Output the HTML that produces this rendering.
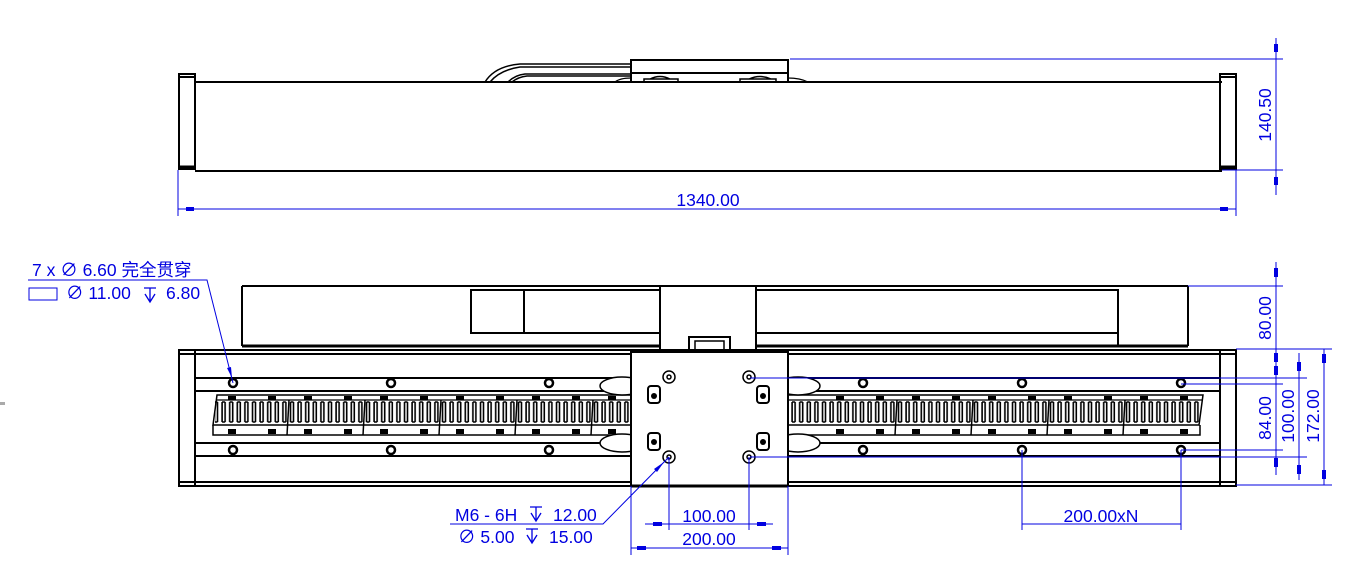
<!DOCTYPE html>
<html><head><meta charset="utf-8"><style>
html,body{margin:0;padding:0;background:#fff;}
svg{display:block;}
text{font-family:"Liberation Sans","Noto Sans CJK SC",sans-serif;fill:#0000e0;font-size:17.5px;}
</style></head><body>
<svg width="1363" height="578" viewBox="0 0 1363 578" xmlns="http://www.w3.org/2000/svg">
<defs>
<pattern id="teeth" x="213" y="400" width="7.6" height="25" patternUnits="userSpaceOnUse">
<path d="M1.5 2 V22 M4.5 2 V22 M1.5 2 H4.5 M1.5 22 H4.5" stroke="#000" stroke-width="1.6" fill="none"/>
</pattern>
<g id="dep"><path d="M-6 0 H6 M0 0 V14 M-5 6 L0 14 L5 6" stroke="#0000e0" stroke-width="1.3" fill="none"/></g>
</defs>
<rect x="0" y="402" width="5" height="3" fill="#aaa"/>
<g stroke="#000" fill="none" stroke-width="2">
<rect x="179" y="74" width="16" height="95"/>
<line x1="179" y1="77" x2="195" y2="77"/>
<line x1="179" y1="167" x2="195" y2="167" stroke-width="3"/>
<line x1="195" y1="82" x2="1222" y2="82"/>
<line x1="195" y1="171" x2="1222" y2="171"/>
<rect x="1220" y="74" width="16" height="95"/>
<line x1="1220" y1="77" x2="1236" y2="77"/>
<line x1="1220" y1="167" x2="1236" y2="167" stroke-width="3"/>
<rect x="631" y="60" width="157" height="22"/>
<line x1="631" y1="73" x2="788" y2="73"/>
<path d="M644 82 V79 H678 V82 M650 79 Q660 74 670 79 M740 82 V79 H776 V82 M749 79 Q760 74 771 79" stroke-width="1.5"/>
<path d="M485 82 Q495 66 520 64 H631 M490 82 Q500 70 520 67 H631" stroke-width="1.5"/>
<path d="M508 82 Q515 75 525 74 H631 M512 82 Q518 77 527 76 H631" stroke-width="1.5"/>
<path d="M615 82 Q620 78 631 78 M788 78 Q800 78 808 82" stroke-width="1.2"/>

<line x1="242" y1="286" x2="660" y2="286"/>
<line x1="756" y1="286" x2="1188" y2="286"/>
<line x1="242" y1="286" x2="242" y2="346"/>
<line x1="1188" y1="286" x2="1188" y2="346"/>
<line x1="242" y1="346" x2="660" y2="346" stroke-width="3"/>
<line x1="756" y1="346" x2="1188" y2="346" stroke-width="3"/>
<rect x="471" y="290" width="189" height="43"/>
<line x1="524" y1="290" x2="524" y2="333"/>
<rect x="756" y="290" width="362" height="43"/>
<line x1="1118" y1="290" x2="1118" y2="346"/>
<rect x="660" y="286" width="96" height="66"/>
<rect x="689" y="337" width="41" height="15"/>
<rect x="695" y="341" width="29" height="11" stroke-width="1.5"/>

<rect x="179" y="350" width="1057" height="136"/>
<line x1="179" y1="354" x2="1236" y2="354"/>
<line x1="179" y1="482" x2="1236" y2="482"/>
<line x1="195" y1="350" x2="195" y2="486"/>
<line x1="1220" y1="350" x2="1220" y2="486"/>
<line x1="195" y1="378" x2="1220" y2="378"/>
<line x1="195" y1="391" x2="1220" y2="391"/>
<line x1="195" y1="443" x2="1220" y2="443"/>
<line x1="195" y1="456" x2="1220" y2="456"/>
<path d="M217 395 H1203 L1199 425 H213 Z" stroke-width="1.5"/>
<rect x="215" y="400" width="986" height="24" fill="url(#teeth)" stroke="none"/>
<path d="M213 425 V435 H1200 V425" stroke-width="1.5"/>
<line x1="217" y1="400" x2="1203" y2="400" stroke-width="1.2"/>
</g>
<g fill="#000">
<g id="rb">
<rect x="228" y="396" width="8" height="4"/><rect x="268" y="396" width="8" height="4"/>
<rect x="228" y="429" width="8" height="5"/><rect x="268" y="429" width="8" height="5"/>
</g>
<use href="#rb" x="76"/><use href="#rb" x="152"/><use href="#rb" x="228"/><use href="#rb" x="304"/><use href="#rb" x="380"/>
<use href="#rb" x="608"/><use href="#rb" x="684"/><use href="#rb" x="760"/><use href="#rb" x="836"/><use href="#rb" x="912"/>
</g>
<g stroke="#000" fill="#fff" stroke-width="1.5">
<line x1="289" y1="400" x2="287" y2="435"/><line x1="365" y1="400" x2="363" y2="435"/><line x1="441" y1="400" x2="439" y2="435"/><line x1="517" y1="400" x2="515" y2="435"/><line x1="593" y1="400" x2="591" y2="435"/>
<line x1="897" y1="400" x2="895" y2="435"/><line x1="973" y1="400" x2="971" y2="435"/><line x1="1049" y1="400" x2="1047" y2="435"/><line x1="1125" y1="400" x2="1123" y2="435"/>
<ellipse cx="622" cy="386" rx="22" ry="9"/><ellipse cx="622" cy="443" rx="22" ry="9"/>
<ellipse cx="798" cy="386" rx="22" ry="9"/><ellipse cx="798" cy="443" rx="22" ry="9"/>
<rect x="631" y="352" width="157" height="134" stroke-width="2"/>
<line x1="631" y1="486" x2="788" y2="486" stroke-width="3"/>
</g>
<g stroke="#000" fill="#fff" stroke-width="1.5">
<g id="rh"><circle cx="233" cy="383" r="4" stroke-width="2.5"/><circle cx="233" cy="450" r="4" stroke-width="2.5"/></g>
<use href="#rh" x="158"/><use href="#rh" x="316"/><use href="#rh" x="630"/><use href="#rh" x="789"/><use href="#rh" x="948"/>
<circle cx="669" cy="377" r="6"/><circle cx="669" cy="377" r="2"/>
<circle cx="749" cy="377" r="6"/><circle cx="749" cy="377" r="2"/>
<circle cx="669" cy="457" r="6"/><circle cx="669" cy="457" r="2"/>
<circle cx="749" cy="457" r="6"/><circle cx="749" cy="457" r="2"/>
<rect x="648" y="386" width="12" height="17" rx="3" stroke-width="2"/>
<rect x="757" y="386" width="12" height="17" rx="3" stroke-width="2"/>
<rect x="648" y="433" width="12" height="17" rx="3" stroke-width="2"/>
<rect x="757" y="433" width="12" height="17" rx="3" stroke-width="2"/>
</g>
<g fill="#000"><circle cx="654" cy="396" r="3"/><circle cx="763" cy="396" r="3"/><circle cx="654" cy="442" r="3"/><circle cx="763" cy="442" r="3"/></g>

<g stroke="#0000e0" stroke-width="1" fill="none">
<line x1="178" y1="170" x2="178" y2="216"/><line x1="1236" y1="170" x2="1236" y2="216"/>
<line x1="178" y1="209" x2="1236" y2="209"/>
<line x1="790" y1="59" x2="1283" y2="59"/><line x1="1222" y1="170" x2="1283" y2="170"/>
<line x1="1276" y1="38" x2="1276" y2="195"/>
<line x1="1188" y1="286" x2="1283" y2="286"/><line x1="1236" y1="349" x2="1332" y2="349"/>
<line x1="1276" y1="262" x2="1276" y2="475"/>
<line x1="750" y1="378" x2="1307" y2="378"/><line x1="1181" y1="384" x2="1283" y2="384"/>
<line x1="1181" y1="450" x2="1283" y2="450"/><line x1="750" y1="457" x2="1307" y2="457"/>
<line x1="1299" y1="353" x2="1299" y2="480"/>
<line x1="1236" y1="485" x2="1332" y2="485"/>
<line x1="1324" y1="349" x2="1324" y2="485"/>
<line x1="669" y1="457" x2="669" y2="530"/><line x1="749" y1="457" x2="749" y2="530"/>
<line x1="645" y1="524" x2="773" y2="524"/>
<line x1="631" y1="486" x2="631" y2="555"/><line x1="788" y1="486" x2="788" y2="555"/>
<line x1="631" y1="548" x2="788" y2="548"/>
<line x1="1022" y1="450" x2="1022" y2="530"/><line x1="1181" y1="450" x2="1181" y2="530"/>
<line x1="1022" y1="524" x2="1181" y2="524"/>
<polyline points="450,524 603,524 669,457"/>
<polyline points="28,280 207,280 233,383"/>
<rect x="29" y="288" width="28" height="12"/>
</g>
<g fill="#0000e0">
<rect x="186" y="207" width="8" height="4"/><rect x="1220" y="207" width="8" height="4"/>
<rect x="1274" y="44" width="4" height="8"/><rect x="1274" y="177" width="4" height="8"/>
<rect x="1274" y="268" width="4" height="9"/><rect x="1274" y="353" width="4" height="9"/>
<rect x="1274" y="366" width="4" height="9"/><rect x="1274" y="458" width="4" height="9"/>
<rect x="1297" y="362" width="4" height="9"/><rect x="1297" y="465" width="4" height="9"/>
<rect x="1322" y="354" width="4" height="9"/><rect x="1322" y="470" width="4" height="9"/>
<rect x="653" y="522" width="9" height="4"/><rect x="757" y="522" width="9" height="4"/>
<rect x="637" y="546" width="9" height="4"/><rect x="772" y="546" width="9" height="4"/>
<polygon points="664,462 657,472 654,469"/>
<polygon points="232,378 227,368 231,367"/>
</g>
<text x="708" y="206" text-anchor="middle">1340.00</text>
<text transform="translate(1271,115) rotate(-90)" text-anchor="middle">140.50</text>
<text transform="translate(1271,318) rotate(-90)" text-anchor="middle">80.00</text>
<text transform="translate(1271,418) rotate(-90)" text-anchor="middle">84.00</text>
<text transform="translate(1294,416) rotate(-90)" text-anchor="middle">100.00</text>
<text transform="translate(1319,416) rotate(-90)" text-anchor="middle">172.00</text>
<text x="709" y="522" text-anchor="middle">100.00</text>
<text x="709" y="545" text-anchor="middle">200.00</text>
<text x="1101" y="522" text-anchor="middle">200.00xN</text>
<text x="455" y="521">M6 - 6H</text>
<use href="#dep" x="536" y="507"/>
<text x="553" y="521">12.00</text>
<text x="458" y="543">∅ 5.00</text>
<use href="#dep" x="532" y="529"/>
<text x="549" y="543">15.00</text>
<text x="32" y="276">7 x  ∅ 6.60 完全贯穿</text>
<text x="66" y="299">∅ 11.00</text>
<use href="#dep" x="150" y="288"/>
<text x="166" y="299">6.80</text>
</svg>
</body></html>
